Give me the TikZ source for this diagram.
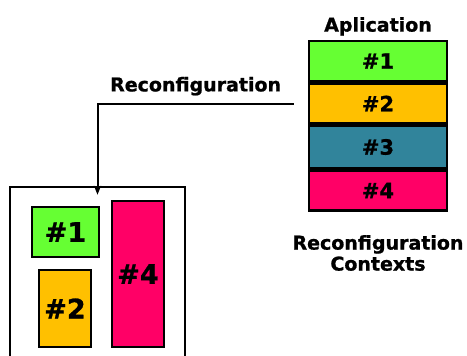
\documentclass[tikz,border=0pt]{standalone}
\usepackage{fontspec}
\setmainfont{DejaVu Sans}[BoldFeatures={FakeBold=1}]
\usetikzlibrary{arrows.meta,positioning}
\definecolor{ctxgreen}{HTML}{66FF33}
\definecolor{ctxorange}{HTML}{FFC000}
\definecolor{ctxteal}{HTML}{31849B}
\definecolor{ctxpink}{HTML}{FF0066}
\tikzset{
	ctx/.style = {rectangle, draw=black, line width=2.5pt, inner sep=0pt,
		font=\fontsize{21}{23}\selectfont\bfseries, text=black},
	slot/.style = {ctx, minimum width=138pt, minimum height=40pt},
	blk/.style = {ctx, font=\fontsize{27}{30}\selectfont\bfseries},
	lbl/.style = {font=\fontsize{19}{21}\selectfont\bfseries, align=center, inner sep=0pt}
}

\begin{document}
\begin{tikzpicture}[x=1pt,y=-1pt]
\clip (0,0) rectangle (467,356);
% context stack
\node (c1) [slot, fill=ctxgreen] at (378,61) {\#1};
\node (c2) [slot, fill=ctxorange, below=0pt of c1] {\#2};
\node (c3) [slot, fill=ctxteal, below=0pt of c2, minimum height=42pt] {\#3};
\node (c4) [slot, fill=ctxpink, below=0pt of c3] {\#4};
\node (app) [lbl, above=4pt of c1] {Aplication};
\node (ctxs) [lbl] at (378,253) {Reconfiguration\\ Contexts};
%----------------- device --------------
\node (dev) [rectangle, draw=black, line width=2.5pt, minimum width=175pt,
	minimum height=190pt] at (97.5,282) {};
\node (b1) [blk, fill=ctxgreen, minimum width=67pt, minimum height=50pt] at (65.5,232) {\#1};
\node (b2) [blk, fill=ctxorange, minimum width=52pt, minimum height=77pt] at (65,308.5) {\#2};
\node (b4) [blk, fill=ctxpink, minimum width=52pt, minimum height=146pt] at (138,274) {\#4};
% reconfiguration arrow
\coordinate (rs) at ([xshift=-14pt]c2.west);
\coordinate (re) at ([yshift=-9pt]dev.north);
\draw[line width=2pt, -{Stealth[length=9pt,width=7pt]}] (rs) -| (re)
	node [lbl, pos=0.25, above=7pt] {Reconfiguration};
\end{tikzpicture}
\end{document}
